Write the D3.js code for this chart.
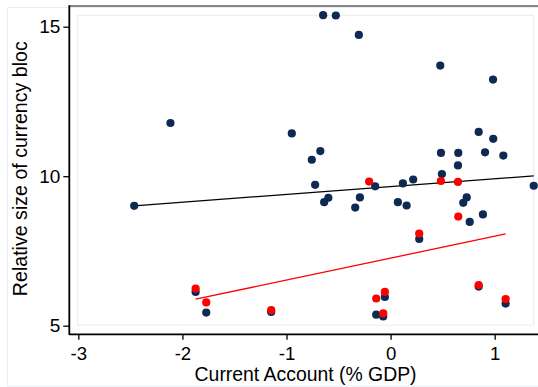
<!DOCTYPE html>
<html>
<head>
<meta charset="utf-8">
<script src="https://cdn.jsdelivr.net/npm/d3@7"></script>
<style>
  html, body { margin: 0; padding: 0; background: #fff; }
  svg { display: block; }
  text { font-family: "Liberation Sans", Arial, sans-serif; fill: #000; }
</style>
</head>
<body>
<svg id="chart" width="538" height="387"></svg>
<script>
// ---- data ----
const xTicks = [-3, -2, -1, 0, 1];
const yTicks = [5, 10, 15];
const xTitle = "Current Account (% GDP)";
const yTitle = "Relative size of currency bloc";

const navyX = [-0.648, -0.526, -0.305, 0.477, 0.984, -2.115, -0.949, 0.846, 0.986, -0.675,
               -0.757, 0.484, 0.650, 0.907, 1.083, 0.647, 0.493, 0.217, 0.118, -0.725,
               -0.148, 1.375, -0.598, -0.638, -0.295, -0.340, 0.070, 0.154, 0.731, 0.698,
               0.887, 0.760, -2.463, 0.275, -1.873, -1.771, -1.147, -0.055, -0.138, -0.071,
               0.846, 1.105];
const navyY = [15.385, 15.375, 14.726, 13.70, 13.23, 11.78, 11.43, 11.48, 11.25, 10.84,
               10.55, 10.78, 10.78, 10.80, 10.69, 10.36, 10.07, 9.89, 9.76, 9.71,
               9.66, 9.68, 9.28, 9.13, 9.29, 8.95, 9.13, 9.02, 9.29, 9.11,
               8.72, 8.47, 9.01, 7.90, 6.13, 5.44, 5.46, 5.96, 5.37, 5.31,
               6.31, 5.74];

const redX = [-0.206, 0.483, 0.647, 0.650, 0.275, -1.873, -1.771, -1.147, -0.138, -0.055, -0.071, 0.846, 1.105];
const redY = [9.82, 9.84, 9.81, 8.65, 8.08, 6.24, 5.78, 5.52, 5.91, 6.13, 5.41, 6.36, 5.89];

// fitted lines (endpoints)
const fitAllX = [-2.463, 1.375];
const fitAllY = [9.01, 10.01];
const fitRedX = [-1.873, 1.105];
const fitRedY = [5.886, 8.07];

// ---- chart ----
const svg = d3.select("#chart");
const x = d3.scaleLinear().domain([-3, 1]).range([78.3, 494.7]);
const y = d3.scaleLinear().domain([5, 15]).range([325.7, 26.7]);

const plotL = x(-3.008), plotR = x(1.375), plotT = y(15.38), plotB = y(5.02);
const frameL = 69.3, frameT = 6, frameB = 334.3;

// outer graph region border
svg.append("rect").attr("x", 7.5).attr("y", 7.5).attr("width", 560).attr("height", 378.5)
  .attr("fill", "none").attr("stroke", "#e6eef1").attr("stroke-width", 1);

// inner plot region border
svg.append("rect").attr("x", plotL).attr("y", plotT)
  .attr("width", plotR - plotL).attr("height", plotB - plotT)
  .attr("fill", "none").attr("stroke", "#e8f0f2").attr("stroke-width", 1.2);

// frame lines
svg.append("line").attr("x1", frameL).attr("x2", 540).attr("y1", frameT).attr("y2", frameT)
  .attr("stroke", "#606060").attr("stroke-width", 1.6);
svg.append("line").attr("x1", frameL).attr("x2", frameL).attr("y1", frameT - 0.8).attr("y2", frameB + 0.8)
  .attr("stroke", "#000").attr("stroke-width", 1.8);
svg.append("line").attr("x1", frameL).attr("x2", 540).attr("y1", frameB).attr("y2", frameB)
  .attr("stroke", "#000").attr("stroke-width", 1.8);

// axes
const yAxis = d3.axisLeft(y).tickValues(yTicks).tickSize(6).tickPadding(3).tickFormat(d => String(d));
const gy = svg.append("g").attr("transform", `translate(${frameL},0)`).call(yAxis);
gy.select(".domain").remove();
gy.selectAll("line").attr("stroke", "#000").attr("stroke-width", 1.3);
gy.selectAll("text").attr("font-size", 19).attr("fill", "#000");

const xAxis = d3.axisBottom(x).tickValues(xTicks).tickSize(5.5).tickPadding(6.5).tickFormat(d => String(d));
const gx = svg.append("g").attr("transform", `translate(0,${frameB})`).call(xAxis);
gx.select(".domain").remove();
gx.selectAll("line").attr("stroke", "#000").attr("stroke-width", 1.3);
gx.selectAll("text").attr("font-size", 18.6).attr("fill", "#000");

// titles
svg.append("text").attr("x", (plotL + plotR) / 2).attr("y", 381)
  .attr("text-anchor", "middle").attr("font-size", 19.4).text(xTitle);
svg.append("text").attr("transform", `translate(26.5,${(plotT + plotB) / 2 - 1.5}) rotate(-90)`)
  .attr("text-anchor", "middle").attr("font-size", 19.6).text(yTitle);

// fit lines
const line = d3.line().x(d => x(d[0])).y(d => y(d[1]));
svg.append("path").datum(d3.zip(fitAllX, fitAllY)).attr("d", line)
  .attr("fill", "none").attr("stroke", "#000").attr("stroke-width", 1.3);
svg.append("path").datum(d3.zip(fitRedX, fitRedY)).attr("d", line)
  .attr("fill", "none").attr("stroke", "#ff0000").attr("stroke-width", 1.3);

// points
svg.append("g").selectAll("circle").data(d3.zip(navyX, navyY)).join("circle")
  .attr("cx", d => x(d[0])).attr("cy", d => y(d[1])).attr("r", 4.1).attr("fill", "#0f2a52");
svg.append("g").selectAll("circle").data(d3.zip(redX, redY)).join("circle")
  .attr("cx", d => x(d[0])).attr("cy", d => y(d[1])).attr("r", 4.1).attr("fill", "#ff0000");
</script>
</body>
</html>
